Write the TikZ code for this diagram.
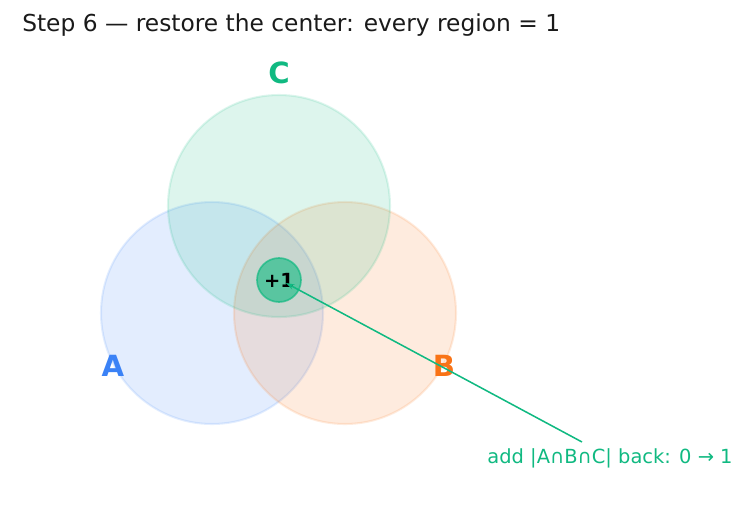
\documentclass[tikz,border=0pt]{standalone}
\usepackage{fontspec}
\setmainfont{DejaVu Sans}
\usetikzlibrary{arrows.meta}
\definecolor{setA}{HTML}{3B82F6}
\definecolor{setB}{HTML}{F97316}
\definecolor{setC}{HTML}{10B981}
\definecolor{ink}{HTML}{1A1A1A}
\tikzset{
  setcirc/.style={circle, minimum size=222\px, inner sep=0pt, line width=1.5pt, fill=#1, fill opacity=0.14, draw=#1, draw opacity=0.14},
  setlabel/.style={text=#1, font=\fontsize{21}{25}\selectfont\bfseries},
  centre/.style={circle, minimum size=44\px, inner sep=0pt, line width=1.2pt, fill=setC, fill opacity=0.6, draw=setC, draw opacity=0.7, text opacity=1, font=\fontsize{14}{17}\selectfont\bfseries},
  arrow/.style={draw=setC, line width=1.1pt, -{Stealth[length=6pt,width=4pt]}}
}
\newlength{\px}\setlength{\px}{0.72pt}
\begin{document}
\begin{tikzpicture}[x=0.72pt, y=-0.72pt]
  \useasboundingbox (0,0) rectangle (746,510);
  \node (title) [anchor=west, inner sep=0pt, text=ink, font=\fontsize{16.8}{20}\selectfont] at (22,25) {Step 6 — restore the center: every region = 1};
  \node (A) [setcirc=setA] at (212,313) {};
  \node (B) [setcirc=setB] at (345,313) {};
  \node (C) [setcirc=setC] at (279,206) {};
  \node (labA) [setlabel=setA] at (113,366) {A};
  \node (labB) [setlabel=setB] at (444,366) {B};
  \node (labC) [setlabel=setC] at (279,73) {C};
  \node (mid) [centre] at (279,280) {+1};
  \node (note) [text=setC, font=\fontsize{14}{17}\selectfont] at (610,458) {add |A∩B∩C| back: 0 → 1};
  \coordinate (tail) at (582,442);
  \coordinate (tip) at (286,283);
  \draw [arrow] (tail) -- (tip);
\end{tikzpicture}
\end{document}
